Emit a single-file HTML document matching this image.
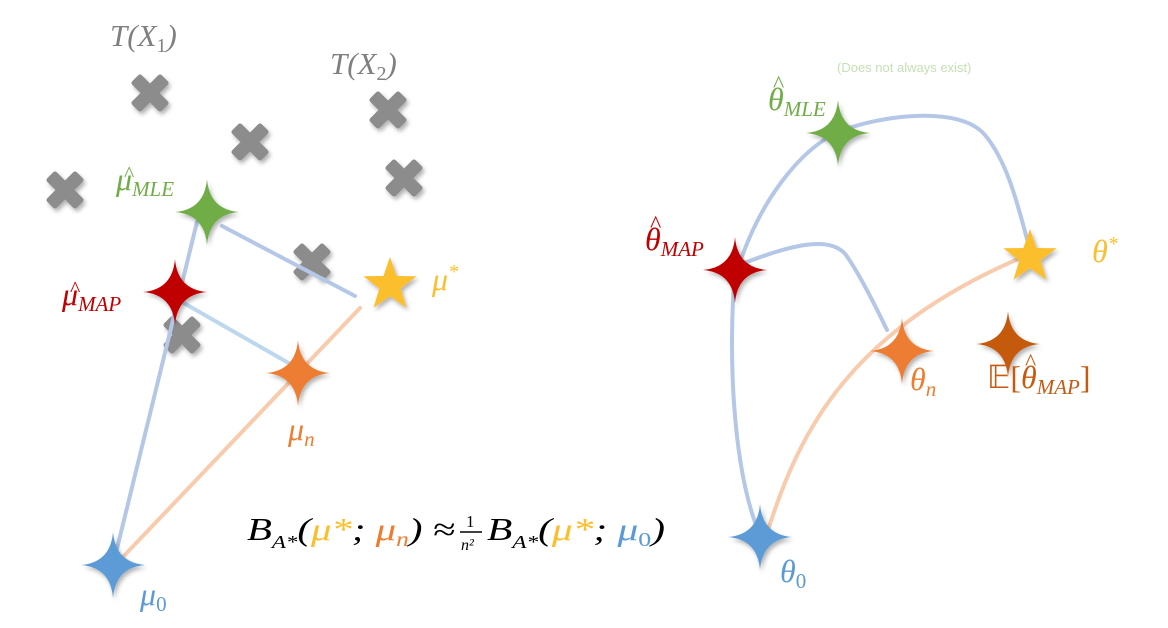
<!DOCTYPE html>
<html><head><meta charset="utf-8"><style>
html,body{margin:0;padding:0;background:#fff;}
svg{display:block;font-family:"Liberation Serif",serif;}
.it{font-style:italic;}
</style></head><body>
<svg width="1168" height="628" viewBox="0 0 1168 628">
<defs>
<filter id="sh" x="-50%" y="-50%" width="200%" height="200%"><feDropShadow dx="2" dy="3" stdDeviation="2" flood-color="#000" flood-opacity="0.3"/></filter>
<path id="s4" d="M0,-33 Q2.5,-2.5 32,0 Q2.5,2.5 0,33 Q-2.5,2.5 -32,0 Q-2.5,-2.5 0,-33Z"/>
<path id="s5" d="M0,-28 L6.6,-9 L26.6,-8.7 L10.7,3.5 L16.5,22.7 L0,11.3 L-16.5,22.7 L-10.7,3.5 L-26.6,-8.7 L-6.6,-9Z"/>
<path id="xm" d="M-16,-10 L-10,-16 L0,-6 L10,-16 L16,-10 L6,0 L16,10 L10,16 L0,6 L-10,16 L-16,10 L-6,0Z" stroke="#8c8c8c" stroke-width="5" stroke-linejoin="round"/>
</defs>

<!-- LEFT PANEL -->
<g>
<g fill="#8c8c8c" filter="url(#sh)">
<use href="#xm" x="150" y="93"/><use href="#xm" x="250" y="142"/><use href="#xm" x="388" y="110"/>
<use href="#xm" x="404" y="178"/><use href="#xm" x="65" y="190"/><use href="#xm" x="312" y="262"/><use href="#xm" x="182" y="335"/>
</g>
<text x="110" y="46" font-size="31" fill="#7f7f7f" class="it">T(X<tspan font-size="20" dy="6" font-style="normal">1</tspan><tspan dy="-6">)</tspan></text>
<text x="330" y="74" font-size="31" fill="#7f7f7f" class="it">T(X<tspan font-size="20" dy="6" font-style="normal">2</tspan><tspan dy="-6">)</tspan></text>
<g fill="none" stroke-width="4" stroke-linecap="round">
<line x1="113" y1="565" x2="197" y2="222" stroke="#b4c7e7"/>
<line x1="222" y1="226" x2="355" y2="296" stroke="#b4c7e7"/>
<line x1="182" y1="302" x2="292" y2="365" stroke="#bdd7ee"/>
<line x1="120" y1="560" x2="360" y2="308" stroke="#f8cbad"/>
</g>
<use href="#s4" x="207" y="212" fill="#70ad47" filter="url(#sh)"/>
<use href="#s4" x="175" y="292" fill="#c00000" filter="url(#sh)"/>
<use href="#s4" x="298" y="373" fill="#ed7d31" filter="url(#sh)"/>
<use href="#s5" x="390" y="285" fill="#fbbf2d" filter="url(#sh)"/>
<use href="#s4" x="113" y="565" fill="#5b9bd5" filter="url(#sh)"/>
<g fill="#70ad47">
<text x="116" y="190" font-size="32" class="it">μ<tspan font-size="21" dy="6">MLE</tspan></text>
<text x="124" y="181" font-size="22">^</text></g>
<g fill="#c00000">
<text x="62" y="305" font-size="32" class="it">μ<tspan font-size="21" dy="6">MAP</tspan></text>
<text x="70" y="296" font-size="22">^</text></g>
<text x="432" y="290" font-size="32" fill="#fbbf2d" class="it">μ<tspan font-size="20" dy="-12">*</tspan></text>
<text x="288" y="440" font-size="32" fill="#ed7d31" class="it">μ<tspan font-size="21" dy="6">n</tspan></text>
<text x="140" y="605" font-size="32" fill="#5b9bd5" class="it">μ<tspan font-size="21" dy="6" font-style="normal">0</tspan></text>
<g font-size="32" class="it">
<text x="247" y="540" fill="#000" textLength="208" lengthAdjust="spacingAndGlyphs">B<tspan font-size="18" dy="8">A*</tspan><tspan dy="-8">(</tspan><tspan fill="#fbbf2d">μ*</tspan>; <tspan fill="#ed7d31">μ<tspan font-size="20" dy="6">n</tspan></tspan><tspan dy="-6">) ≈</tspan></text>
<text x="466" y="527" font-size="17" fill="#000" font-style="normal">1</text>
<line x1="460" y1="532" x2="482" y2="532" stroke="#000" stroke-width="1.5"/>
<text x="461" y="550" font-size="16" fill="#000">n²</text>
<text x="487" y="540" fill="#000" textLength="178" lengthAdjust="spacingAndGlyphs">B<tspan font-size="18" dy="8">A*</tspan><tspan dy="-8">(</tspan><tspan fill="#fbbf2d">μ*</tspan>; <tspan fill="#5b9bd5">μ<tspan font-size="20" dy="6" font-style="normal">0</tspan></tspan><tspan dy="-6">)</tspan></text>
</g>
</g>

<!-- RIGHT PANEL -->
<g>
<g fill="none" stroke-width="4" stroke-linecap="round">
<path d="M738,268 C760,200 800,150 838,132 C880,115 960,105 985,135 C1010,165 1020,215 1030,250" stroke="#b4c7e7"/>
<path d="M735,272 C728,350 732,470 760,535" stroke="#b4c7e7"/>
<path d="M742,264 C790,245 830,235 846,255 C860,275 875,305 887,330" stroke="#b4c7e7"/>
<path d="M768,530 C800,430 850,330 1025,256" stroke="#f8cbad"/>
</g>
<use href="#s4" x="838" y="133" fill="#70ad47" filter="url(#sh)"/>
<use href="#s4" x="735" y="270" fill="#c00000" filter="url(#sh)"/>
<use href="#s5" x="1030" y="257" fill="#fbbf2d" filter="url(#sh)"/>
<use href="#s4" x="902" y="351" fill="#ed7d31" filter="url(#sh)"/>
<use href="#s4" x="1008" y="344" fill="#c55a11" filter="url(#sh)"/>
<use href="#s4" x="760" y="537" fill="#5b9bd5" filter="url(#sh)"/>
<text x="837" y="72" font-size="13" fill="#c5e0b4" font-family="Liberation Sans, sans-serif">(Does not always exist)</text>
<g fill="#70ad47">
<text x="768" y="110" font-size="32" class="it">θ<tspan font-size="21" dy="6">MLE</tspan></text>
<text x="773" y="92" font-size="24">^</text></g>
<g fill="#c00000">
<text x="645" y="250" font-size="32" class="it">θ<tspan font-size="21" dy="6">MAP</tspan></text>
<text x="650" y="232" font-size="24">^</text></g>
<text x="1092" y="262" font-size="32" fill="#fbbf2d" class="it">θ<tspan font-size="20" dy="-12">*</tspan></text>
<text x="910" y="390" font-size="32" fill="#ed7d31" class="it">θ<tspan font-size="21" dy="6">n</tspan></text>
<g fill="#c55a11">
<text x="987" y="388" font-size="32">𝔼[<tspan class="it">θ</tspan><tspan font-size="21" dy="6" class="it">MAP</tspan><tspan dy="-6">]</tspan></text>
<text x="1025" y="370" font-size="24">^</text></g>
<text x="780" y="582" font-size="32" fill="#5b9bd5" class="it">θ<tspan font-size="21" dy="6" font-style="normal">0</tspan></text>
</g>
</svg>
</body></html>
